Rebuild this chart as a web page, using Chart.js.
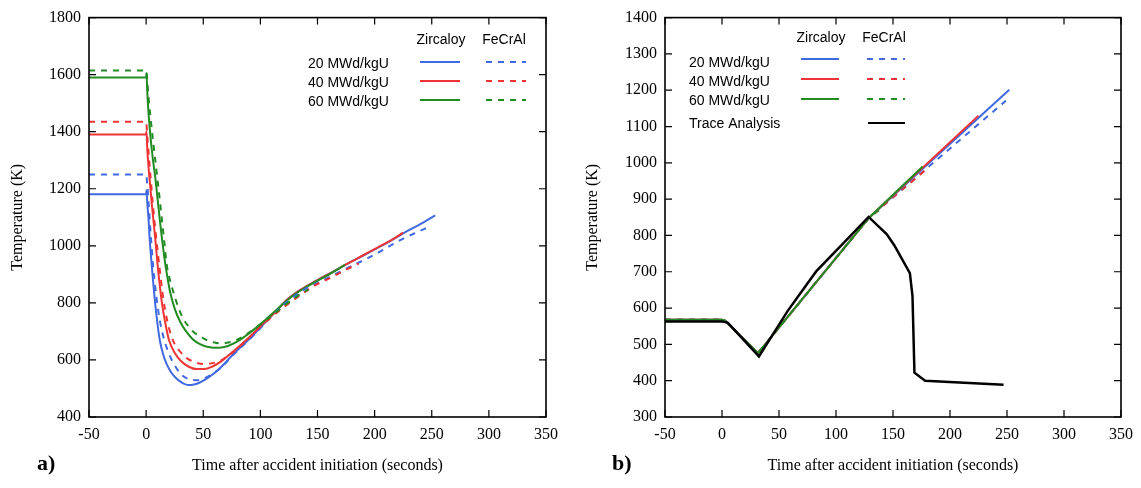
<!DOCTYPE html>
<html>
<head>
<meta charset="utf-8">
<script src="https://cdn.jsdelivr.net/npm/chart.js@4.4.1/dist/chart.umd.min.js"></script>
<style>
body { margin: 0; background: #fff; width: 1141px; height: 488px; overflow: hidden; position: relative; }
.box { position: absolute; top: 0; height: 488px; }
#boxA { left: 0; width: 575px; }
#boxB { left: 575px; width: 566px; }
</style>
</head>
<body>
<div class="box" id="boxA"><canvas id="chartA"></canvas></div>
<div class="box" id="boxB"><canvas id="chartB"></canvas></div>
<script>
// tick values
const xTicks = [-50, 0, 50, 100, 150, 200, 250, 300, 350];
const yTicksA = [400, 600, 800, 1000, 1200, 1400, 1600, 1800];
const yTicksB = [300, 400, 500, 600, 700, 800, 900, 1000, 1100, 1200, 1300, 1400];

// panel a) - [time (s), temperature (K)]
const zircA20 = [[-50,1181],[0,1181],[0.3,1195],[1,1150],[2,1100],[3,1030],[4,975],[6,880],[8,795],[10,725],[12,668],[15,618],[18,585],[22,556],[27,533],[32,519],[37,512],[42,514],[47,521],[54,537],[62,561],[69,589],[76,619],[85,653],[94,688],[102,722],[111,760],[117,785],[123,810],[130,832],[140,857],[150,880],[161,903],[175,935],[190,966],[205,998],[215,1020],[225,1044],[240,1076],[253,1107]];
const zircA40 = [[-50,1390],[0,1390],[0.3,1402],[1,1340],[2,1282],[3,1235],[5,1145],[8,1025],[10,935],[12,860],[14,795],[17,725],[20,670],[25,625],[30,598],[37,577],[44,568],[51,568],[58,577],[66,596],[73,619],[82,650],[91,682],[100,718],[111,760],[117,785],[123,810],[130,832],[140,857],[150,880],[161,903],[175,935],[190,967],[205,999],[215,1021],[225,1046]];
const zircA60 = [[-50,1590],[0,1590],[0.3,1606],[1,1540],[2,1470],[3.4,1400],[6,1300],[8,1240],[10,1165],[12,1090],[14,1020],[16,958],[18,905],[21,838],[25,780],[30,732],[35,700],[41,672],[48,654],[57,644],[64,643],[71,648],[80,665],[88,687],[97,715],[105,743],[112,768],[118,790],[124,811],[130,830],[140,855],[150,878],[161,902],[174,933]];
const fecrA20 = [[-50,1250],[0,1250],[1,1215],[2,1160],[3,1100],[4,1040],[6,935],[8,855],[10,790],[12,738],[15,683],[19,632],[24,588],[31,548],[38,532],[44,529],[50,534],[58,551],[66,575],[76,617],[85,651],[94,686],[102,720],[111,757],[118,785],[125,810],[132,830],[138,846],[147,864],[155,880],[165,900],[176,922],[188,945],[199,967],[210,992],[222,1019],[235,1044],[248,1067]];
const fecrA40 = [[-50,1435],[0,1435],[1,1385],[2,1335],[4,1235],[6,1140],[8,1060],[10,985],[12,915],[14,845],[16.5,778],[20,712],[24,664],[30,628],[35,608],[42,593],[50,586],[57,588],[65,597],[73,618],[82,647],[91,681],[100,716],[110,751],[120,784],[130,813],[138,836],[149,864],[161,887],[173,912],[186,938]];
const fecrA60 = [[-50,1615],[0,1615],[2,1525],[4,1445],[6,1370],[8,1300],[10,1230],[12,1160],[14,1085],[16,1010],[18,935],[21,878],[24,836],[28,786],[32,748],[37,718],[41,700],[47,683],[53,670],[59,662],[65,658],[72,661],[79,670],[88,690],[97,716],[107,746],[117,778],[126,806],[134,828],[142,847]];

// panel b)
const zircB20 = [[-50,568],[0,568],[2.5,566],[31.6,476],[129,849],[252,1201]];
const zircB40 = [[-50,568],[0,568],[2.5,566],[31.6,476],[129,849],[225,1130]];
const zircB60 = [[-50,568],[0,568],[2.5,566],[31.6,476],[129,849],[176,990]];
const fecrB20 = [[-50,568],[0,568],[2.5,566],[31.6,476],[129,849],[249,1171]];
const fecrB40 = [[-50,568],[0,568],[2.5,566],[31.6,476],[129,849],[180,984]];
const fecrB60 = [[-50,568],[0,568],[2.5,566],[31.6,476],[129,849],[141,877]];
const traceB = [[-50,563],[0,563],[5,560],[32.4,467],[57.8,593],[82.6,701],[105.9,777],[128.6,851],[144.4,804],[151.1,773],[164.8,696],[167.1,633],[168.8,422],[178.2,400],[247,389]];

const BLUE = 'rgb(65,105,225)';
const RED = 'rgb(238,52,52)';
const GREEN = 'rgb(34,139,34)';
const SERIF = '"Liberation Serif", "Times New Roman", serif';
const SANS = '"Liberation Sans", Arial, sans-serif';

const toXY = arr => arr.map(p => ({ x: p[0], y: p[1] }));

function line(data, color, dashed, order, smooth) {
    return {
        data: toXY(data),
        borderColor: color,
        borderWidth: 2,
        borderDash: dashed ? [6, 6] : [],
        pointRadius: 0,
        fill: false,
        order: order,
        tension: smooth ? 0.4 : 0,
        cubicInterpolationMode: smooth ? 'monotone' : 'default'
    };
}

// frame with inward ticks, legend table and panel letter
const framePlugin = {
    id: 'frame',
    afterDatasetsDraw(chart, args, opts) {
        const ctx = chart.ctx;
        const { left, right, top, bottom } = chart.chartArea;
        const x = chart.scales.x, y = chart.scales.y;
        ctx.save();
        ctx.strokeStyle = '#000';
        ctx.lineWidth = 1.6;
        ctx.strokeRect(left, top, right - left, bottom - top);
        ctx.lineWidth = 1.2;
        ctx.beginPath();
        x.ticks.forEach(t => {
            const px = x.getPixelForValue(t.value);
            ctx.moveTo(px, bottom); ctx.lineTo(px, bottom - 7);
            ctx.moveTo(px, top); ctx.lineTo(px, top + 7);
        });
        y.ticks.forEach(t => {
            const py = y.getPixelForValue(t.value);
            ctx.moveTo(left, py); ctx.lineTo(left + 7, py);
            ctx.moveTo(right, py); ctx.lineTo(right - 7, py);
        });
        ctx.stroke();

        // legend
        const lg = opts.legend;
        ctx.fillStyle = '#000';
        ctx.font = '14px ' + SANS;
        ctx.textBaseline = 'middle';
        ctx.textAlign = 'center';
        ctx.fillText('Zircaloy', lg.headX[0], lg.headY);
        ctx.fillText('FeCrAl', lg.headX[1], lg.headY);
        ctx.textAlign = 'left';
        lg.rows.forEach(r => {
            ctx.fillStyle = '#000';
            ctx.fillText(r.label, lg.textX, r.ty);
            ctx.strokeStyle = r.color;
            ctx.lineWidth = 2;
            if (r.solid) {
                ctx.setLineDash([]);
                ctx.beginPath(); ctx.moveTo(r.solid[0], r.ly); ctx.lineTo(r.solid[1], r.ly); ctx.stroke();
            }
            if (r.dash) {
                ctx.setLineDash([6, 6]);
                ctx.beginPath(); ctx.moveTo(r.dash[0], r.ly); ctx.lineTo(r.dash[1], r.ly); ctx.stroke();
                ctx.setLineDash([]);
            }
        });

        // panel letter
        ctx.fillStyle = '#000';
        ctx.font = 'bold 22px ' + SERIF;
        ctx.textAlign = 'left';
        ctx.fillText(opts.letter, opts.letterX, 464);
        ctx.restore();
    }
};

function makeChart(id, datasets, yMin, yMax, yTicks, yWidth, padRight, legend, letter, letterX) {
    return new Chart(document.getElementById(id), {
        type: 'line',
        data: { datasets: datasets },
        plugins: [framePlugin],
        options: {
            responsive: true,
            maintainAspectRatio: false,
            devicePixelRatio: 1,
            animation: false,
            layout: { padding: { left: 0, right: padRight, top: 10, bottom: 0 } },
            plugins: {
                legend: { display: false },
                tooltip: { enabled: false },
                frame: { legend: legend, letter: letter, letterX: letterX }
            },
            scales: {
                x: {
                    type: 'linear', min: -50, max: 350,
                    afterBuildTicks: s => { s.ticks = xTicks.map(v => ({ value: v })); },
                    afterFit: s => { s.height = 71; },
                    grid: { display: false, drawTicks: false },
                    border: { display: false },
                    ticks: { color: '#000', padding: 8, maxRotation: 0, callback: v => String(v),
                        font: { family: SERIF, size: 16 } },
                    title: { display: true, text: 'Time after accident initiation (seconds)', color: '#000',
                        padding: { top: 0, bottom: 13 }, font: { family: SERIF, size: 16 } }
                },
                y: {
                    type: 'linear', min: yMin, max: yMax,
                    afterBuildTicks: s => { s.ticks = yTicks.map(v => ({ value: v })); },
                    afterFit: s => { s.width = yWidth; },
                    grid: { display: false, drawTicks: false },
                    border: { display: false },
                    ticks: { color: '#000', padding: 8, callback: v => String(v),
                        font: { family: SERIF, size: 16 } },
                    title: { display: true, text: 'Temperature (K)', color: '#000',
                        padding: { top: 8, bottom: 0 }, font: { family: SERIF, size: 16 } }
                }
            }
        }
    });
}

makeChart('chartA', [
    line(fecrA60, GREEN, true, 1, true),
    line(fecrA40, RED, true, 2, true),
    line(fecrA20, BLUE, true, 3, true),
    line(zircA60, GREEN, false, 4, true),
    line(zircA40, RED, false, 5, true),
    line(zircA20, BLUE, false, 6, true)
], 400, 1800, yTicksA, 89, 29, {
    headX: [441, 504], headY: 40, textX: 308,
    rows: [
        { label: '20 MWd/kgU', color: BLUE, ty: 64, ly: 62, solid: [420, 460], dash: [486, 526] },
        { label: '40 MWd/kgU', color: RED, ty: 83, ly: 81, solid: [420, 460], dash: [486, 526] },
        { label: '60 MWd/kgU', color: GREEN, ty: 102, ly: 100, solid: [420, 460], dash: [486, 526] }
    ]
}, 'a)', 37);

makeChart('chartB', [
    Object.assign(line(traceB, '#000', false, 0, false), { borderWidth: 2.5 }),
    line(zircB60, GREEN, false, 1, false),
    line(zircB40, RED, false, 2, false),
    line(zircB20, BLUE, false, 3, false),
    line(fecrB60, GREEN, true, 4, false),
    line(fecrB40, RED, true, 5, false),
    line(fecrB20, BLUE, true, 6, false)
], 300, 1400, yTicksB, 90, 19, {
    headX: [246, 309], headY: 38, textX: 114,
    rows: [
        { label: '20 MWd/kgU', color: BLUE, ty: 63, ly: 59, solid: [226, 264], dash: [292, 330] },
        { label: '40 MWd/kgU', color: RED, ty: 82, ly: 79, solid: [226, 264], dash: [292, 330] },
        { label: '60 MWd/kgU', color: GREEN, ty: 101, ly: 99, solid: [226, 264], dash: [292, 330] },
        { label: 'Trace Analysis', color: '#000', ty: 124, ly: 123, solid: [293, 330] }
    ]
}, 'b)', 37);
</script>
</body>
</html>
